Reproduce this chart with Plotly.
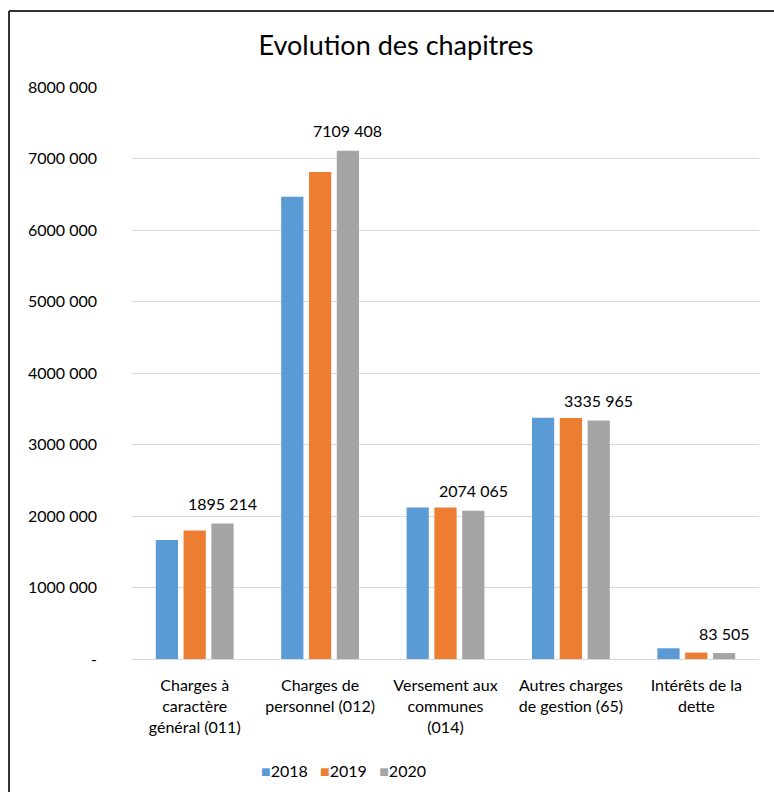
import plotly.graph_objects as go

categories = [
    "Charges à<br>caractère<br>général (011)",
    "Charges de<br>personnel (012)",
    "Versement aux<br>communes<br>(014)",
    "Autres charges<br>de gestion (65)",
    "Intérêts de la<br>dette",
]
years = ["2018", "2019", "2020"]
values_2018 = [1663000, 6465000, 2120000, 3373000, 150000]
values_2019 = [1797000, 6810000, 2120000, 3370000, 90000]
values_2020 = [1895214, 7109408, 2074065, 3335965, 83505]
tick_values = [0, 1000000, 2000000, 3000000, 4000000, 5000000, 6000000, 7000000, 8000000]
colors = ["#5B9BD5", "#ED7D31", "#A5A5A5"]


def fmt(v):
    v = int(round(v))
    if v == 0:
        return "-"
    if v >= 1000:
        return f"{v // 1000} {v % 1000:03d}"
    return str(v)


W, H = 774, 792
ML, MR, MT, MB = 132, 15, 87, 133
PW = W - ML - MR
PH = H - MT - MB
BARGAP = 0.335
FONT = "Lato, Calibri, sans-serif"

fig = go.Figure()
for name, vals, col in zip(years, [values_2018, values_2019, values_2020], colors):
    fig.add_trace(go.Bar(name=name, x=categories, y=vals, marker_color=col,
                         marker_line_width=0, hoverinfo="x+y", showlegend=False))

# data labels on last series
slot = PW / len(categories) * (1 - BARGAP) / len(years)
shift = slot * (len(years) - 1) / 2
for c, v in zip(categories, values_2020):
    fig.add_annotation(x=c, y=v, xref="x", yref="y", text=fmt(v), showarrow=False,
                       xshift=shift, yshift=20, yanchor="middle",
                       font=dict(family=FONT, size=16, color="#000000"))

# compact legend (Excel style): coloured square + year
legend_text = "&nbsp;&nbsp;&nbsp;".join(
    f'<span style="color:{c}">■</span>{y}' for y, c in zip(years, colors))
fig.add_annotation(x=(343 - ML) / PW, y=-(770 - (H - MB)) / PH, xref="paper", yref="paper",
                   text=legend_text, showarrow=False, xanchor="center", yanchor="middle",
                   font=dict(family=FONT, size=16, color="#000000"))

# chart border (top and left visible)
bx = (9 - ML) / PW
by = (H - MB - 11) / PH
fig.add_shape(type="line", xref="paper", yref="paper", x0=bx, x1=bx, y0=by, y1=-0.5,
              line=dict(color="#333333", width=2))
fig.add_shape(type="line", xref="paper", yref="paper", x0=bx, x1=1.2, y0=by, y1=by,
              line=dict(color="#333333", width=2))

fig.update_layout(
    width=W, height=H,
    margin=dict(l=ML, r=MR, t=MT, b=MB, autoexpand=False),
    paper_bgcolor="white", plot_bgcolor="white",
    font=dict(family=FONT, size=16, color="#000000"),
    title=dict(text="Evolution des chapitres", x=396 / W, xref="container", xanchor="center",
               y=1 - 46 / H, yref="container", yanchor="middle",
               font=dict(family=FONT, size=27, color="#000000")),
    barmode="group", bargap=BARGAP, bargroupgap=0.2,
    showlegend=False,
)
fig.update_yaxes(range=[0, 8000000], tickvals=tick_values, ticktext=[fmt(v) for v in tick_values],
                 showgrid=True, gridcolor="#D9D9D9", gridwidth=1, zeroline=True,
                 zerolinecolor="#D9D9D9", zerolinewidth=1, showline=False, ticks="",
                 ticklabelstandoff=34, tickfont=dict(family=FONT, size=16), automargin=False)
fig.update_xaxes(showline=True, linecolor="#D9D9D9", linewidth=1, ticks="",
                 tickfont=dict(family=FONT, size=16), tickangle=0, automargin=False,
                 ticklabelstandoff=12)

fig.write_html("out.html", config={"displayModeBar": False},
               post_script="document.body.style.margin='0';document.body.style.overflow='hidden';")
